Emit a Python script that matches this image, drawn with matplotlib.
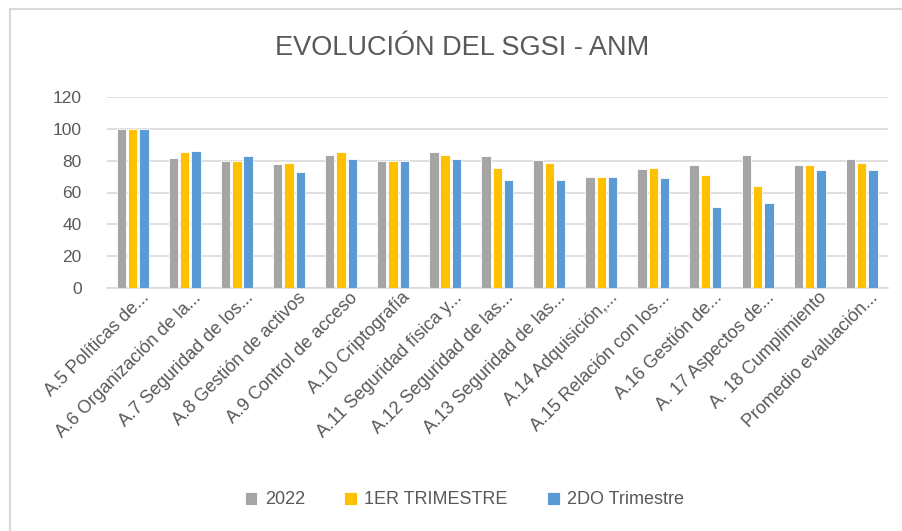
import matplotlib.pyplot as plt
import matplotlib.transforms as mtransforms
import numpy as np

categorias = ['A.5 Políticas de...', 'A.6 Organización de la...', 'A.7 Seguridad de los...',
              'A.8 Gestión de activos', 'A.9 Control de acceso', 'A.10 Criptografía',
              'A.11 Seguridad física y...', 'A.12 Seguridad de las...', 'A.13 Seguridad de las...',
              'A.14 Adquisición,...', 'A.15 Relación con los...', 'A.16 Gestión de...',
              'A. 17 Aspectos de...', 'A. 18 Cumplimiento', 'Promedio evaluación...']
v2022 = [100, 81.4, 80, 77.9, 83.7, 80, 85.2, 82.9, 80.2, 69.7, 74.7, 77, 83.7, 77, 80.8]
v1er = [100, 85.2, 80, 78.5, 85.2, 80, 83.7, 75.6, 78.5, 69.7, 75.6, 71.2, 63.9, 77, 78.5]
v2do = [100, 86.0, 82.9, 72.6, 80.8, 80, 80.8, 67.6, 67.6, 69.7, 68.9, 50.7, 53.4, 74.1, 74.1]
series = ['2022', '1ER TRIMESTRE', '2DO Trimestre']
colores = ['#A5A5A5', '#FFC000', '#5B9BD5']

plt.rcParams['font.family'] = ['Liberation Sans', 'DejaVu Sans']
texto = '#595959'

fig = plt.figure(figsize=(9.02, 5.31), dpi=100)
ax = fig.add_axes([106.7 / 902, 1 - 288.3 / 531, 781 / 902, 191.6 / 531])

x = np.arange(len(categorias))
paso = 0.217
ancho = 0.18
for i, (vals, nombre, c) in enumerate(zip([v2022, v1er, v2do], series, colores)):
    ax.bar(x + (i - 1) * paso, vals, ancho, color=c, label=nombre,
           edgecolor='white', linewidth=0.6, zorder=3)

ax.set_xlim(-0.5, len(categorias) - 0.5)
ax.set_ylim(0, 120)
ax.set_yticks(range(0, 121, 20))
ax.yaxis.grid(True, color='#D9D9D9', linewidth=1.2, zorder=0)
for s in ['top', 'right', 'left']:
    ax.spines[s].set_visible(False)
ax.spines['bottom'].set_color('#D9D9D9')
ax.spines['bottom'].set_linewidth(1.2)
ax.tick_params(axis='both', length=0, colors=texto, labelsize=12.5)
ax.tick_params(axis='y', pad=18)
ax.tick_params(axis='x', pad=5)
ax.set_xticks(x)
ax.set_xticklabels(categorias, rotation=45, ha='right', rotation_mode='anchor', fontsize=13)
desplazar = mtransforms.ScaledTranslation(8 / 100, 6 / 100, fig.dpi_scale_trans)
for lab in ax.get_xticklabels():
    lab.set_transform(lab.get_transform() + desplazar)

fig.text(0.512, 1 - 48 / 531, 'EVOLUCIÓN DEL SGSI - ANM', ha='center', va='center',
         fontsize=19.5, color=texto)
fig.legend(loc='center', bbox_to_anchor=(0.515, 1 - 500 / 531), ncol=3, frameon=False,
           fontsize=13, labelcolor=texto, handlelength=0.7, handleheight=0.7,
           columnspacing=2.2, handletextpad=0.4)

# borde del gráfico
fig.patches.append(plt.Rectangle((10 / 902, -0.01), 1.0, 1 - 9 / 531 + 0.01, transform=fig.transFigure,
                                 fill=False, edgecolor='#D9D9D9', linewidth=1.5))

fig.savefig('out.png', dpi=100)
